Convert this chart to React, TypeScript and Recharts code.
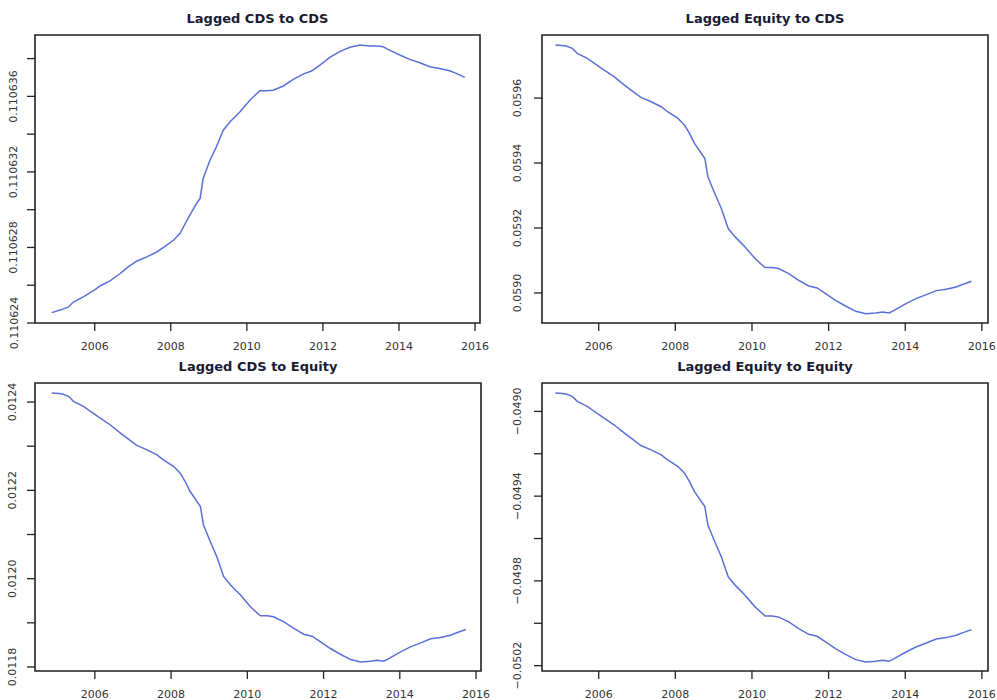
import React from "react";
import { LineChart, Line, XAxis, YAxis, ReferenceArea } from "recharts";

// sample dates (decimal years) shared by all four panels
const DATES = [
  2004.87, 2005.13, 2005.31, 2005.44, 2005.7, 2006.01, 2006.14, 2006.4, 2006.67, 2006.88,
  2007.1, 2007.37, 2007.63, 2007.8, 2008.07, 2008.24, 2008.37, 2008.5, 2008.68, 2008.77,
  2008.85, 2009.03, 2009.2, 2009.38, 2009.56, 2009.82, 2010.08, 2010.34, 2010.52, 2010.69,
  2010.96, 2011.22, 2011.48, 2011.7, 2011.92, 2012.18, 2012.44, 2012.71, 2012.97, 2013.23,
  2013.41, 2013.58, 2013.71, 2014.02, 2014.28, 2014.55, 2014.81, 2015.07, 2015.33, 2015.51,
  2015.73,
];

const CDS_TO_CDS = [
  0.11062455, 0.11062471, 0.11062485, 0.11062511, 0.11062538, 0.11062577, 0.11062596, 0.11062623,
  0.11062662, 0.11062697, 0.11062727, 0.1106275, 0.11062776, 0.11062799, 0.11062838, 0.11062874,
  0.11062923, 0.11062971, 0.11063033, 0.11063059, 0.11063165, 0.11063262, 0.11063333, 0.11063421,
  0.11063466, 0.11063519, 0.1106358, 0.1106363, 0.1106363, 0.11063633, 0.11063655, 0.1106369,
  0.11063718, 0.11063734, 0.11063766, 0.11063807, 0.11063837, 0.1106386, 0.11063872, 0.11063867,
  0.11063867, 0.11063863, 0.11063849, 0.11063819, 0.11063796, 0.11063778, 0.11063757, 0.11063748,
  0.11063736, 0.11063722, 0.11063701,
];

const EQUITY_TO_CDS = [
  0.0597634, 0.0597613, 0.0597531, 0.0597377, 0.0597223, 0.0596966, 0.0596863, 0.0596658,
  0.0596401, 0.0596216, 0.0596021, 0.0595887, 0.0595733, 0.0595579, 0.0595373, 0.0595168,
  0.0594911, 0.0594603, 0.0594295, 0.059414, 0.0593575, 0.0593062, 0.0592599, 0.0591983,
  0.0591726, 0.0591418, 0.0591058, 0.0590781, 0.0590781, 0.059075, 0.0590596, 0.059039,
  0.0590216, 0.0590154, 0.0589979, 0.0589774, 0.0589599, 0.0589435, 0.0589363, 0.0589384,
  0.0589414, 0.0589384, 0.0589466, 0.0589671, 0.0589825, 0.0589949, 0.0590072, 0.0590113,
  0.0590185, 0.0590267, 0.059036,
];

const CDS_TO_EQUITY = [
  0.0124204, 0.0124189, 0.0124129, 0.0124015, 0.0123902, 0.0123713, 0.0123637, 0.0123486,
  0.0123297, 0.012316, 0.0123017, 0.0122918, 0.0122805, 0.0122691, 0.012254, 0.0122389,
  0.01222, 0.0121973, 0.0121746, 0.0121632, 0.0121216, 0.0120838, 0.0120498, 0.0120044,
  0.0119855, 0.0119628, 0.0119363, 0.0119159, 0.0119159, 0.0119136, 0.0119023, 0.0118872,
  0.0118743, 0.0118698, 0.0118569, 0.0118418, 0.0118289, 0.0118168, 0.0118115, 0.011813,
  0.0118153, 0.011813, 0.0118191, 0.0118342, 0.0118456, 0.0118546, 0.0118637, 0.0118667,
  0.011872, 0.0118781, 0.0118849,
];

const EQUITY_TO_EQUITY = [
  -0.0489133, -0.0489164, -0.048929, -0.0489527, -0.0489763, -0.0490158, -0.0490315, -0.0490631,
  -0.0491025, -0.0491309, -0.0491609, -0.0491814, -0.049205, -0.0492287, -0.0492602, -0.0492917,
  -0.0493312, -0.0493785, -0.0494258, -0.0494494, -0.0495362, -0.049615, -0.049686, -0.0497806,
  -0.04982, -0.0498674, -0.0499225, -0.0499651, -0.0499651, -0.0499699, -0.0499935, -0.0500251,
  -0.0500519, -0.0500613, -0.0500881, -0.0501197, -0.0501465, -0.0501717, -0.0501828, -0.0501796,
  -0.0501749, -0.0501796, -0.050167, -0.0501354, -0.0501118, -0.0500928, -0.0500739, -0.0500676,
  -0.0500566, -0.050044, -0.0500298,
];

const YEAR_TICKS = [2006, 2008, 2010, 2012, 2014, 2016];

const CDS_CDS_TICKS = [0.110624, 0.110626, 0.110628, 0.11063, 0.110632, 0.110634, 0.110636, 0.110638];
const CDS_CDS_LABELS = ["0.110624", "", "0.110628", "", "0.110632", "", "0.110636", ""];

const EQ_CDS_TICKS = [0.059, 0.0592, 0.0594, 0.0596];
const EQ_CDS_LABELS = ["0.0590", "0.0592", "0.0594", "0.0596"];

const CDS_EQ_TICKS = [0.0118, 0.0119, 0.012, 0.0121, 0.0122, 0.0123, 0.0124];
const CDS_EQ_LABELS = ["0.0118", "", "0.0120", "", "0.0122", "", "0.0124"];

const EQ_EQ_TICKS = [-0.0502, -0.05, -0.0498, -0.0496, -0.0494, -0.0492, -0.049];
const EQ_EQ_LABELS = ["\u22120.0502", "", "\u22120.0498", "", "\u22120.0494", "", "\u22120.0490"];

const LINE_COLOR = "#5b6fd9";
const AXIS_COLOR = "#222";
const FONT = "'DejaVu Sans', sans-serif";
const Y_AXIS_W = 35;
const RIGHT_PAD = 10;

const panels = [
  {
    title: "Lagged CDS to CDS",
    values: CDS_TO_CDS,
    ticks: CDS_CDS_TICKS,
    labels: CDS_CDS_LABELS,
    box: [35, 35, 480, 323],
    xDomain: [2004.43, 2016.13],
    yDomain: [0.110624, 0.11063925],
    labelGap: 21,
  },
  {
    title: "Lagged Equity to CDS",
    values: EQUITY_TO_CDS,
    ticks: EQ_CDS_TICKS,
    labels: EQ_CDS_LABELS,
    box: [542, 35, 988, 323],
    xDomain: [2004.52, 2016.16],
    yDomain: [0.0589075, 0.0597942],
    labelGap: 24,
  },
  {
    title: "Lagged CDS to Equity",
    values: CDS_TO_EQUITY,
    ticks: CDS_EQ_TICKS,
    labels: CDS_EQ_LABELS,
    box: [35, 383, 481, 671],
    xDomain: [2004.43, 2016.13],
    yDomain: [0.0117909, 0.0124431],
    labelGap: 22,
  },
  {
    title: "Lagged Equity to Equity",
    values: EQUITY_TO_EQUITY,
    ticks: EQ_EQ_TICKS,
    labels: EQ_EQ_LABELS,
    box: [542, 383, 988, 671],
    xDomain: [2004.52, 2016.16],
    yDomain: [-0.0502252, -0.048866],
    labelGap: 24,
  },
];

const YTick = (props: any) => {
  const { y, payload, ticks, labels, gap } = props;
  const i = ticks.findIndex((t: number) => Math.abs(t - payload.value) < 1e-9);
  const label = i >= 0 ? labels[i] : "";
  if (!label) return null;
  const cx = Y_AXIS_W - gap;
  return (
    <text
      x={cx}
      y={y}
      transform={`rotate(-90 ${cx} ${y})`}
      textAnchor="middle"
      dominantBaseline="central"
      fontSize={11}
      fontFamily={FONT}
      fill="#333"
    >
      {label}
    </text>
  );
};

const Panel = ({ p }: { p: (typeof panels)[number] }) => {
  const [x0, y0, x1, y1] = p.box;
  const data = DATES.map((t, i) => ({ t, v: p.values[i] }));
  const width = x1 - x0 + Y_AXIS_W + RIGHT_PAD;
  const height = y1 - y0 + 35;

  return (
    <>
      <div
        style={{
          position: "absolute",
          left: x0,
          width: x1 - x0,
          top: y0 - 24,
          textAlign: "center",
          fontFamily: FONT,
          fontWeight: "bold",
          fontSize: 13,
          lineHeight: "16px",
          color: "#1a1a33",
        }}
      >
        {p.title}
      </div>
      <div style={{ position: "absolute", left: x0 - Y_AXIS_W, top: y0 - 5 }}>
        <LineChart
          width={width}
          height={height}
          data={data}
          margin={{ top: 5, right: RIGHT_PAD, left: 0, bottom: 0 }}
          style={{ overflow: "visible" }}
        >
          <XAxis
            dataKey="t"
            type="number"
            domain={p.xDomain}
            allowDataOverflow
            ticks={YEAR_TICKS}
            interval={0}
            height={30}
            axisLine={false}
            tickSize={8}
            tickMargin={11}
            tickLine={{ stroke: AXIS_COLOR, strokeWidth: 1.3 }}
            tick={{ fontSize: 11, fontFamily: FONT, fill: "#333" }}
          />
          <YAxis
            type="number"
            domain={p.yDomain}
            allowDataOverflow
            ticks={p.ticks}
            interval={0}
            width={Y_AXIS_W}
            axisLine={false}
            tickSize={8}
            tickLine={{ stroke: AXIS_COLOR, strokeWidth: 1.3 }}
            tick={<YTick ticks={p.ticks} labels={p.labels} gap={p.labelGap} />}
          />
          <ReferenceArea
            x1={p.xDomain[0]}
            x2={p.xDomain[1]}
            y1={p.yDomain[0]}
            y2={p.yDomain[1]}
            fill="none"
            stroke={AXIS_COLOR}
            strokeWidth={1.6}
            ifOverflow="visible"
          />
          <Line
            type="linear"
            dataKey="v"
            stroke={LINE_COLOR}
            strokeWidth={1.5}
            dot={false}
            isAnimationActive={false}
          />
        </LineChart>
      </div>
    </>
  );
};

export default function App() {
  return (
    <div style={{ position: "absolute", left: 0, top: 0, width: 997, height: 700, background: "#fff" }}>
      {panels.map((p) => (
        <Panel key={p.title} p={p} />
      ))}
    </div>
  );
}
